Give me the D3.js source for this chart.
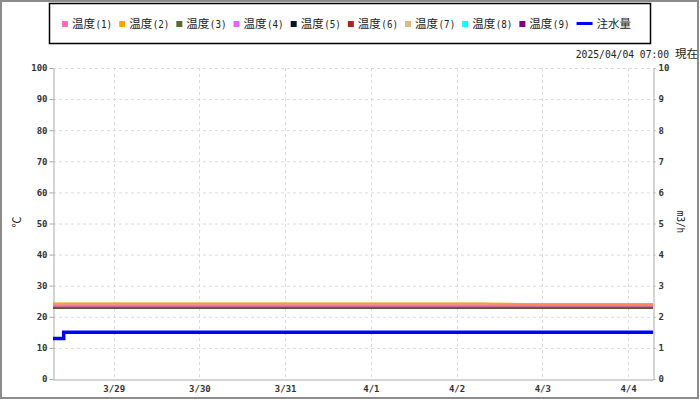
<!DOCTYPE html>
<html><head><meta charset="utf-8">
<script src="https://cdn.jsdelivr.net/npm/d3@7"></script>
<style>
html,body{margin:0;padding:0;background:#fff;}
svg{display:block;}
text{font-family:"DejaVu Sans Mono","Noto Sans CJK JP",monospace;}
</style></head><body>
<svg id="c" width="700" height="400"></svg>
<script>
// ---- data ----
const times = ["2025-03-28T07:00","2025-03-28T19:00","2025-03-29T07:00","2025-03-29T19:00",
  "2025-03-30T07:00","2025-03-30T19:00","2025-03-31T07:00","2025-03-31T19:00",
  "2025-04-01T07:00","2025-04-01T19:00","2025-04-02T07:00","2025-04-02T19:00",
  "2025-04-03T07:00","2025-04-03T19:00","2025-04-04T07:00"];
const seriesNames = ["温度(1)","温度(2)","温度(3)","温度(4)","温度(5)","温度(6)","温度(7)","温度(8)","温度(9)"];
const seriesColors = ["#ff6eb4","#ffa500","#556b2f","#e066ff","#0a1628","#b22222","#deb887","#00ffff","#800080"];
const temp1 = [23.6,23.6,23.6,23.6,23.6,23.6,23.6,23.6,23.6,23.6,23.6,23.6,23.6,23.6,23.6];
const temp2 = [24.3,24.3,24.3,24.3,24.3,24.3,24.3,24.3,24.3,24.3,24.3,24.1,24.1,24.1,24.1];
const temp3 = [23.0,23.0,23.0,23.0,23.0,23.0,23.0,23.0,23.0,23.0,23.0,23.0,23.0,23.0,23.0];
const temp4 = [23.5,23.5,23.5,23.5,23.5,23.5,23.5,23.5,23.5,23.5,23.5,23.5,23.5,23.5,23.5];
const temp5 = [23.0,23.0,23.0,23.0,23.0,23.0,23.0,23.0,23.0,23.0,23.0,23.0,23.0,23.0,23.0];
const temp6 = [23.0,23.0,23.0,23.0,23.0,23.0,23.0,23.0,23.0,23.0,23.0,23.0,23.0,23.0,23.0];
const temp7 = [24.2,24.2,24.2,24.2,24.2,24.2,24.2,24.2,24.2,24.2,24.2,24.0,24.0,24.0,24.0];
const temp8 = [23.5,23.5,23.5,23.5,23.5,23.5,23.5,23.5,23.5,23.5,23.5,23.5,23.5,23.5,23.5];
const temp9 = [23.1,23.1,23.1,23.1,23.1,23.1,23.1,23.1,23.1,23.1,23.1,23.1,23.1,23.1,23.1];
const tempSeries = [temp1,temp2,temp3,temp4,temp5,temp6,temp7,temp8,temp9];
const waterTimes = ["2025-03-28T07:00","2025-03-28T10:00","2025-04-04T07:00"];
const waterValues = [1.3,1.5,1.5];
const waterName = "注水量";
const waterColor = "#0000ff";
const leftTicks = [0,10,20,30,40,50,60,70,80,90,100];
const rightTicks = [0,1,2,3,4,5,6,7,8,9,10];
const dayTicks = ["2025-03-29","2025-03-30","2025-03-31","2025-04-01","2025-04-02","2025-04-03","2025-04-04"];
const dayLabels = ["3/29","3/30","3/31","4/1","4/2","4/3","4/4"];
const stampText = "2025/04/04 07:00";
const stampSuffix = "現在";

// ---- drawing ----
const svg = d3.select("#c");
const parse = d3.timeParse("%Y-%m-%dT%H:%M");
const parseDay = d3.timeParse("%Y-%m-%d");
const m = {l:53, r:653, t:68, b:379};
const x = d3.scaleTime().domain([parse(times[0]), parse(times[times.length-1])]).range([m.l, m.r]);
const yL = d3.scaleLinear().domain([0,100]).range([m.b, m.t]);
const yR = d3.scaleLinear().domain([0,10]).range([m.b, m.t]);
const MONO = "DejaVu Sans Mono, monospace";
const CJK = "Noto Sans CJK JP, sans-serif";

// outer frame
svg.append("rect").attr("x",1).attr("y",1).attr("width",697).attr("height",397)
  .attr("fill","#fff").attr("stroke","#8c8c8c").attr("stroke-width",2);

// grid
const grid = svg.append("g");
grid.selectAll("line.h").data(leftTicks.slice(1)).join("line")
  .attr("x1",m.l).attr("x2",m.r).attr("y1",d=>yL(d)+0.5).attr("y2",d=>yL(d)+0.5)
  .attr("stroke","#dcdcdc").attr("stroke-dasharray","3,3");
grid.selectAll("line.v").data(dayTicks).join("line")
  .attr("x1",d=>Math.round(x(parseDay(d)))+0.5).attr("x2",d=>Math.round(x(parseDay(d)))+0.5)
  .attr("y1",m.t).attr("y2",m.b)
  .attr("stroke","#dcdcdc").attr("stroke-dasharray","3,3");

// axes
const tickFont = g => g.selectAll("text").attr("font-size","9px").attr("font-weight","bold")
  .attr("fill","#333").attr("font-family",MONO);
const axisStyle = g => { g.select(".domain").attr("stroke","#aaa"); g.selectAll(".tick line").attr("stroke","#aaa"); };

svg.append("g").attr("transform",`translate(${m.l+0.5},0)`)
  .call(d3.axisLeft(yL).tickValues(leftTicks).tickSize(4).tickPadding(2).tickSizeOuter(0))
  .call(axisStyle).call(tickFont);
svg.append("g").attr("transform",`translate(${m.r+0.5},0)`)
  .call(d3.axisRight(yR).tickValues(rightTicks).tickSize(2).tickPadding(3).tickSizeOuter(0))
  .call(axisStyle).call(tickFont);
svg.append("g").attr("transform",`translate(0,${m.b+0.5})`)
  .call(d3.axisBottom(x).tickValues(dayTicks.map(parseDay)).tickFormat((d,i)=>dayLabels[i]).tickSize(0).tickPadding(6).tickSizeOuter(0))
  .call(axisStyle).call(tickFont);

// axis titles
svg.append("text").attr("transform","translate(21,222) rotate(-90)").attr("text-anchor","middle")
  .attr("font-size","11px").attr("fill","#222").attr("font-family",CJK).text("℃");
svg.append("text").attr("transform","translate(677,222) rotate(90) scale(0.85,1)").attr("text-anchor","middle")
  .attr("font-size","11px").attr("fill","#222").attr("font-family",MONO).text("m3/h");

// temperature lines (draw last series first so series 1-3 are on top)
const lineT = d3.line().x((d,i)=>x(parse(times[i]))).y(d=>yL(d));
const order = d3.range(tempSeries.length).reverse();
svg.append("g").selectAll("path").data(order).join("path")
  .attr("d",i=>lineT(tempSeries[i])).attr("fill","none")
  .attr("stroke",i=>seriesColors[i]).attr("stroke-width",2);

// water line
const lineW = d3.line().curve(d3.curveStepAfter).x((d,i)=>x(parse(waterTimes[i]))).y(d=>yR(d));
svg.append("path").attr("d",lineW(waterValues)).attr("fill","none")
  .attr("stroke",waterColor).attr("stroke-width",3.5);

// legend
const leg = svg.append("g");
leg.append("rect").attr("x",49.5).attr("y",3.5).attr("width",601).attr("height",40)
  .attr("fill","#fff").attr("stroke","#000").attr("stroke-width",1.5);
const legItems = seriesNames.map((n,i)=>({name:n,color:seriesColors[i],type:"sq"}))
  .concat([{name:waterName,color:waterColor,type:"line"}]);
const SX = 0.84;
let lx = 62;
legItems.forEach(it=>{
  const g = leg.append("g");
  let tx;
  if(it.type==="sq"){
    g.append("rect").attr("x",lx).attr("y",21).attr("width",6).attr("height",6).attr("fill",it.color);
    tx = lx+10;
  } else {
    g.append("line").attr("x1",lx).attr("x2",lx+16).attr("y1",23.5).attr("y2",23.5)
      .attr("stroke",it.color).attr("stroke-width",3);
    tx = lx+20;
  }
  const cjk = it.name.replace(/\(.*\)/,"");
  const asc = (it.name.match(/\(.*\)/)||[""])[0];
  const t1 = g.append("text").attr("x",tx).attr("y",28).attr("fill","#222")
    .attr("font-size","11.5px").attr("font-family",CJK).text(cjk);
  let w = t1.node().getComputedTextLength();
  if(asc){
    const t2 = g.append("text").attr("transform",`translate(${tx+w+0.5},28) scale(${SX},1)`)
      .attr("fill","#222").attr("font-size","11px").attr("font-family",MONO).text(asc);
    w += 0.5 + t2.node().getComputedTextLength()*SX;
  }
  lx = tx + w + 7;
});

// timestamp
const suf = svg.append("text").attr("x",698).attr("y",58).attr("text-anchor","end").attr("fill","#222")
  .attr("font-size","11.5px").attr("font-family",CJK).text(stampSuffix);
const sw = suf.node().getComputedTextLength();
svg.append("text").attr("transform",`translate(${698-sw-6},58) scale(0.88,1)`).attr("text-anchor","end")
  .attr("fill","#222").attr("font-size","11px").attr("font-family",MONO).text(stampText);
</script></body></html>
